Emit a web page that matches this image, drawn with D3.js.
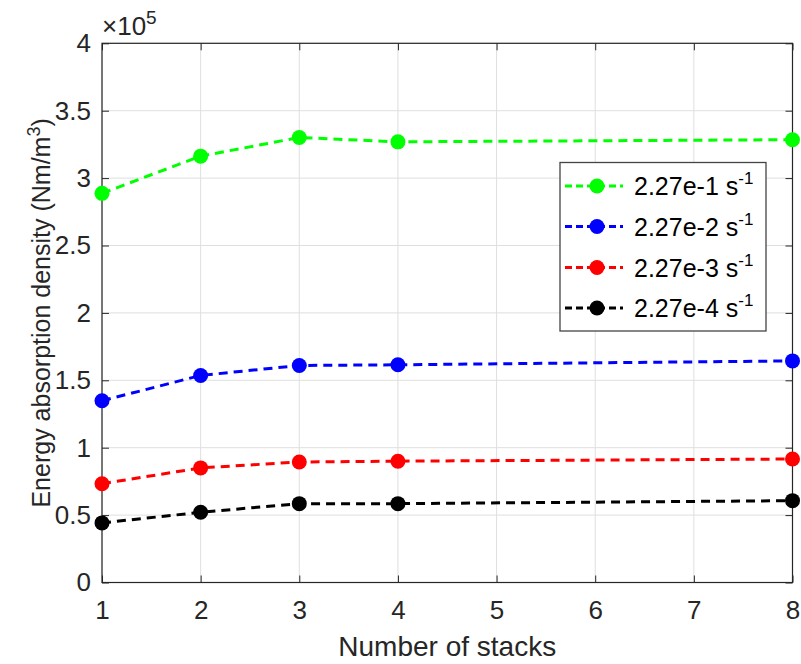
<!DOCTYPE html>
<html><head><meta charset="utf-8">
<script src="https://cdn.jsdelivr.net/npm/d3@7/dist/d3.min.js"></script>
<style>body{margin:0;background:#fff}svg{display:block;font-family:"Liberation Sans",Arial,sans-serif}</style>
</head><body><svg id="c" width="801" height="664"></svg>
<script>
const stacks = [1, 2, 3, 4, 8];
const seriesNames = ["2.27e-1", "2.27e-2", "2.27e-3", "2.27e-4"];
const seriesColors = ["#00ff00", "#0000ff", "#ff0000", "#000000"];
const s1 = [2.887, 3.163, 3.301, 3.269, 3.285];
const s2 = [1.348, 1.536, 1.610, 1.615, 1.644];
const s3 = [0.733, 0.850, 0.894, 0.900, 0.916];
const s4 = [0.442, 0.521, 0.585, 0.585, 0.607];
const seriesValues = [s1, s2, s3, s4];
const xTicks = [1, 2, 3, 4, 5, 6, 7, 8];
const yTicks = [0, 0.5, 1, 1.5, 2, 2.5, 3, 3.5, 4];

const svg = d3.select("#c");
const L = 102, R = 792.5, T = 43.3, B = 582.5;
const x = d3.scaleLinear().domain([1, 8]).range([L, R]);
const y = d3.scaleLinear().domain([0, 4]).range([B, T]);
const axisCol = "#262626";

// grid
const g = svg.append("g");
g.selectAll(".gx").data(xTicks).join("line")
  .attr("x1", d => x(d)).attr("x2", d => x(d)).attr("y1", T).attr("y2", B)
  .attr("stroke", "#dfdfdf").attr("stroke-width", 1);
g.selectAll(".gy").data(yTicks).join("line")
  .attr("y1", d => y(d)).attr("y2", d => y(d)).attr("x1", L).attr("x2", R)
  .attr("stroke", "#dfdfdf").attr("stroke-width", 1);

// axes
const fs = 26;
const ax = svg.append("g").attr("transform", `translate(0,${B})`)
  .call(d3.axisBottom(x).tickValues(xTicks).tickSizeInner(-7).tickSizeOuter(0).tickPadding(18).tickFormat(d3.format("d")));
const ay = svg.append("g").attr("transform", `translate(${L},0)`)
  .call(d3.axisLeft(y).tickValues(yTicks).tickSizeInner(-7).tickSizeOuter(0).tickPadding(11).tickFormat(d => String(d)));
const axT = svg.append("g").attr("transform", `translate(0,${T})`)
  .call(d3.axisTop(x).tickValues(xTicks).tickSizeInner(-7).tickSizeOuter(0).tickFormat(""));
const ayR = svg.append("g").attr("transform", `translate(${R},0)`)
  .call(d3.axisRight(y).tickValues(yTicks).tickSizeInner(-7).tickSizeOuter(0).tickFormat(""));
[ax, ay, axT, ayR].forEach(a => {
  a.select(".domain").remove();
  a.selectAll("line").attr("stroke", axisCol).attr("stroke-width", 1);
  a.selectAll("text").attr("fill", axisCol).style("font-size", fs + "px").style("font-family", '"Liberation Sans",Arial,sans-serif');
});
ax.selectAll("text").attr("dy", "0.71em");
svg.append("rect").attr("x", L).attr("y", T).attr("width", R - L).attr("height", B - T)
  .attr("fill", "none").attr("stroke", axisCol).attr("stroke-width", 1.2);

// exponent
const ex = svg.append("text").attr("x", L).attr("y", 35).attr("fill", axisCol);
ex.append("tspan").style("font-size", "26px").text("\u00d710");
ex.append("tspan").attr("dy", -11).style("font-size", "19px").text("5");

// axis titles
svg.append("text").attr("x", (L + R) / 2).attr("y", 656).attr("text-anchor", "middle")
  .attr("fill", axisCol).style("font-size", "28px").text("Number of stacks");
const yl = svg.append("text").attr("transform", `translate(50,${(T + B) / 2}) rotate(-90)`)
  .attr("text-anchor", "middle").attr("fill", axisCol).style("font-size", "25px");
yl.append("tspan").text("Energy absorption density (Nm/m");
yl.append("tspan").attr("dy", -10).style("font-size", "18px").text("3");
yl.append("tspan").attr("dy", 10).text(")");

// series
const line = d3.line().x((d, i) => x(stacks[i])).y(d => y(d));
seriesValues.forEach((vals, k) => {
  svg.append("path").datum(vals).attr("d", line).attr("fill", "none")
    .attr("stroke", seriesColors[k]).attr("stroke-width", 3).attr("stroke-dasharray", "9,6");
  svg.selectAll(null).data(vals).join("circle")
    .attr("cx", (d, i) => x(stacks[i])).attr("cy", d => y(d)).attr("r", 7.5)
    .attr("fill", seriesColors[k]);
});

// legend
const lg = svg.append("g");
lg.append("rect").attr("x", 560).attr("y", 162.5).attr("width", 206).attr("height", 168.5)
  .attr("fill", "#fff").attr("stroke", "#444").attr("stroke-width", 1.3);
const rowY = [186, 226.5, 267.5, 308];
seriesNames.forEach((n, k) => {
  const yy = rowY[k];
  lg.append("line").attr("x1", 565).attr("x2", 623).attr("y1", yy).attr("y2", yy)
    .attr("stroke", seriesColors[k]).attr("stroke-width", 3).attr("stroke-dasharray", "7,4");
  lg.append("circle").attr("cx", 597).attr("cy", yy).attr("r", 7.5).attr("fill", seriesColors[k]);
  const t = lg.append("text").attr("x", 634).attr("y", yy + 9).attr("fill", "#000").style("font-size", "25px");
  t.append("tspan").text(n + " s");
  t.append("tspan").attr("dy", -11).style("font-size", "17px").text("-1");
});
</script></body></html>
